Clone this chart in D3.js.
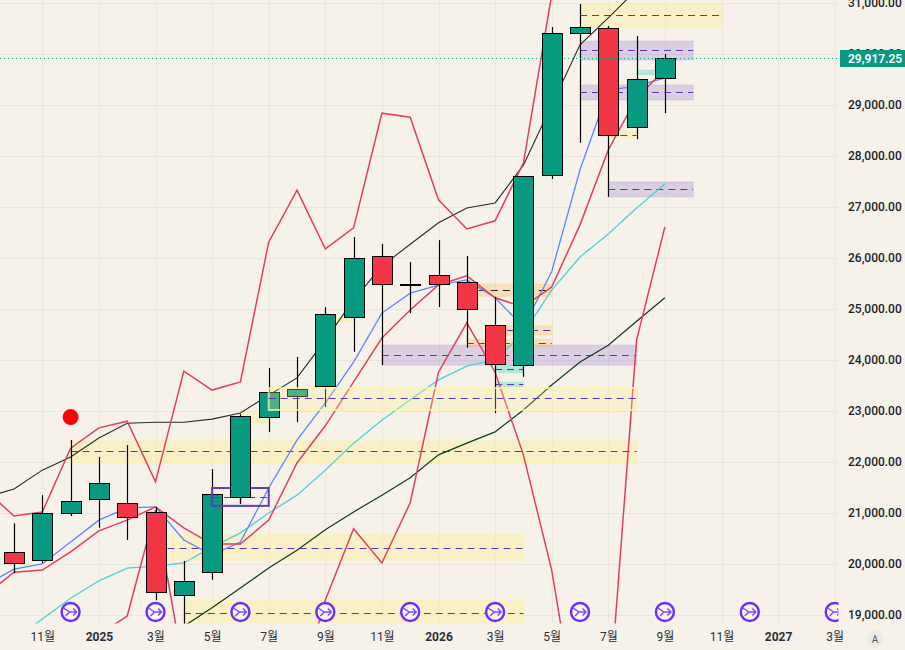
<!DOCTYPE html>
<html><head><meta charset="utf-8">
<script src="https://cdn.jsdelivr.net/npm/d3@7/dist/d3.min.js"></script>
<style>html,body{margin:0;padding:0;background:#f6f2ea;overflow:hidden}svg{display:block}</style>
</head><body><div id="c"></div>
<script>
// months are indexed from 2024-10 = 0
const tickMonths=[1,3,5,7,9,11,13,15,17,19,21,23,25,27,29];
const tickLabels=["11월","2025","3월","5월","7월","9월","11월","2026","3월","5월","7월","9월","11월","2027","3월"];
const priceTicks=[19000,20000,21000,22000,23000,24000,25000,26000,27000,28000,29000,30000,31000];
const opens =[20240,20080,21000,21280,21200,21020,19390,19840,21310,22880,23290,23490,24840,26040,25490,25670,25530,24690,23900,27630,30410,30510,28570,29530];
const closes=[20020,21000,21240,21590,20920,19450,19670,21370,22900,23370,23430,24900,26000,25490,25470,25490,25000,23920,27610,30410,30530,28410,29510,29917];
const highs =[20800,21350,22430,22100,22330,21120,20060,21860,22940,23840,24060,25040,26410,26280,25920,26350,26040,25240,27610,30530,30980,30550,30350,30000];
const lows  =[19820,20020,20940,20710,20470,19290,18800,19690,21180,22590,22780,23080,24160,23900,24920,25040,24240,22960,23670,27550,28260,27200,28330,28840];
const lastPrice=29917.25;
const signalMonth=2, signalPrice=22880;
const eventMonths=[2,5,8,11,14,17,20,23,26,29];

const blackStart=-1, blueStart=-1, redMaStart=-1, cyanStart=0, darkStart=6, upperStart=-1, lowerStart=3;
const blackLine=[21310,21470,21840,22100,22470,22760,22780,22780,22840,22960,23310,23650,24390,25180,25840,26270,26690,26980,27080,27820,29000,30180,30710,31260];
const blueLine=[19590,19900,20000,20430,20860,21100,21120,20470,20180,20430,21490,22430,23160,23960,24920,25310,25470,25570,25220,24650,25730,27730,29290,29370,29530];
const redMaLine=[19390,19840,19880,20240,20650,20860,21120,20710,20390,20390,20860,21980,22710,23570,24430,24980,25470,25650,25220,25040,25430,26650,28120,29140,29690];
const cyanLine=[18510,18920,19330,19670,19920,19960,20020,20330,20610,21000,21350,21840,22370,22820,23220,23610,23880,24000,24530,25370,26020,26470,26980,27450];
const darkLine=[18780,19140,19530,19920,20270,20670,21020,21350,21690,22140,22370,22590,23020,23510,23960,24290,24760,25220];
const upperLine=[21450,20940,21020,22270,22670,22800,21610,23780,23410,23570,26310,27330,26180,26590,28840,28760,27140,26570,26730,27860,31160];
const lowerLine=[18610,18980,21060,17920,15370,15770,16940,17330,19290,20690,20020,21200,23760,24730,23760,22140,19880,16550,17060,24390,26610];

// zones: [startMonth,endMonth,high,low,mid]
const yellowZones=[[2,22,22410,21980,22220],[5,18,20570,20080,20310],[6,18,19290,18780,19040],[20,25,30980,30530,30760],[21,22,28490,28370,28420],[8,9,22960,22760,null],[11,12,24840,24760,null]];
const yellowTopZones=[[9,22,23450,23020,23250]];
const purpleZones=[[13,22,24290,23900,24100],[20,24,30250,29880,30080],[20,24,29390,29100,29250],[21,24,27490,27200,27350]];
const orangeZones=[[16,19,25490,25240,25370],[17,19,24670,24490,24580],[16,19,24410,24260,24330]];
const tealZones=[[17,18,23900,23750,23820],[17,18,23570,23470,23530],[22,23,29690,29590,null]];
const outlineZones=[[7,9,21490,21140,21310]];

const W=905,H=650,plotR=838.5,plotB=623.5;
const bg="#f6f2ea",green="#089981",red="#f23645",grid="#e9e6de",crimson="#e0405e";
const x=d3.scaleLinear().domain([0,29]).range([14,834.7]);
const y=d3.scaleLinear().domain([19000,31000]).range([615,3]);
const svg=d3.select("#c").append("svg").attr("width",W).attr("height",H).style("background",bg);
const FONT="Roboto,'Noto Sans CJK KR',sans-serif";
svg.append("defs").append("clipPath").attr("id","plot").append("rect").attr("x",0).attr("y",0).attr("width",plotR).attr("height",plotB);

// grid
const gridG=svg.append("g").attr("clip-path","url(#plot)");
gridG.selectAll(".h").data(priceTicks).join("line").attr("x1",0).attr("x2",plotR).attr("y1",d=>Math.round(y(d))+.5).attr("y2",d=>Math.round(y(d))+.5).attr("stroke",grid);
gridG.selectAll(".v").data(tickMonths).join("line").attr("y1",0).attr("y2",plotB).attr("x1",d=>Math.round(x(d))+.5).attr("x2",d=>Math.round(x(d))+.5).attr("stroke",grid);

const plot=svg.append("g").attr("clip-path","url(#plot)");
function drawZones(g,zones,fill,border,dash,dashColor){
  zones.forEach(z=>{
    const x0=x(z[0]),x1=x(z[1]),y0=y(z[2]),y1=y(z[3]);
    g.append("rect").attr("x",x0).attr("y",y0).attr("width",x1-x0).attr("height",y1-y0).attr("fill",fill).attr("stroke",border).attr("stroke-width",2);
    if(z[4]!=null){const m=Math.round(y(z[4]))+.5;
      g.append("line").attr("x1",x0).attr("x2",x1).attr("y1",m).attr("y2",m).attr("stroke",dashColor||"#5e35b1").attr("stroke-width",1).attr("stroke-dasharray","7 5");}
  });
}
const Z=plot.append("g");
drawZones(Z,yellowZones,"rgba(251,238,170,.55)","rgba(255,240,150,.35)");
drawZones(Z,purpleZones,"rgba(149,117,205,.28)","rgba(149,117,205,.12)");
drawZones(Z,orangeZones.slice(0,1),"rgba(255,183,77,.3)","rgba(255,183,77,.1)",null,"#222");
drawZones(Z,orangeZones.slice(1),"rgba(255,183,77,.3)","rgba(255,183,77,.1)");
drawZones(Z,tealZones,"rgba(77,208,190,.38)","rgba(77,208,190,.05)");

// lines
const line=start=>d3.line().x((d,i)=>x(i+start)).y(d=>y(d));
[[darkLine,darkStart,"#0d3b24",1.2],[cyanLine,cyanStart,"#4fcfdc",1.3],[blackLine,blackStart,"#2a2a2a",1.1],[lowerLine,lowerStart,crimson,1.5],[upperLine,upperStart,crimson,1.5],[blueLine,blueStart,"#5b87f5",1.3],[redMaLine,redMaStart,crimson,1.5]]
 .forEach(([data,start,col,w])=>plot.append("path").attr("d",line(start)(data)).attr("fill","none").attr("stroke",col).attr("stroke-width",w));

// candles
const cw=20;
const cG=plot.append("g");
opens.forEach((o,i)=>{
  const c=closes[i],X=Math.round(x(i))+.5;
  cG.append("line").attr("x1",X).attr("x2",X).attr("y1",y(highs[i])).attr("y2",y(lows[i])).attr("stroke","#000").attr("stroke-width",1.2);
  const t=Math.round(y(Math.max(o,c))),b=Math.round(y(Math.min(o,c)));
  cG.append("rect").attr("x",X-cw/2).attr("y",t+.5).attr("width",cw).attr("height",Math.max(1,b-t)).attr("fill",c>=o?green:red).attr("stroke","#000").attr("stroke-width",1);
});
drawZones(plot.append("g"),yellowTopZones,"rgba(255,240,140,.28)","rgba(255,243,170,.75)");
outlineZones.forEach(z=>{
  const g=plot.append("g");
  g.append("rect").attr("x",x(z[0])).attr("y",y(z[2])).attr("width",x(z[1])-x(z[0])).attr("height",y(z[3])-y(z[2])).attr("fill","none").attr("stroke","#673ab7").attr("stroke-width",2);
  const m=Math.round(y(z[4]))+.5;
  g.append("line").attr("x1",x(z[0])).attr("x2",x(z[1])).attr("y1",m).attr("y2",m).attr("stroke","#5e35b1").attr("stroke-dasharray","7 5");
});
// redraw the candle that sits over the outline box
(()=>{const i=8,X=Math.round(x(i))+.5,t=Math.round(y(closes[i])),b=Math.round(y(opens[i]));
 plot.append("line").attr("x1",X).attr("x2",X).attr("y1",b).attr("y2",y(lows[i])).attr("stroke","#000").attr("stroke-width",1.2);
 plot.append("rect").attr("x",X-cw/2).attr("y",t+.5).attr("width",cw).attr("height",b-t).attr("fill",green).attr("stroke","#000");})();

// signal dot
plot.append("circle").attr("cx",x(signalMonth)).attr("cy",y(signalPrice)).attr("r",8).attr("fill","#ff0000");

// last price line
plot.append("line").attr("x1",0).attr("x2",plotR).attr("y1",Math.round(y(lastPrice))+.5).attr("y2",Math.round(y(lastPrice))+.5).attr("stroke",green).attr("stroke-width",1).attr("stroke-dasharray","1 3");

// event icons
const ev=plot.selectAll(".ev").data(eventMonths).join("g").attr("transform",d=>`translate(${x(d)},612)`);
ev.append("circle").attr("r",9).attr("fill","#f9f6f1").attr("stroke","#6a2cff").attr("stroke-width",2.4);
ev.append("path").attr("d","M-7,-4 L-1,0 H6 M2.5,-3.5 L6,0 L2.5,3.5 M-1,0 L-5,4").attr("fill","none").attr("stroke","#7c4dff").attr("stroke-width",1.5);

// axes
const yAxis=d3.axisRight(y).tickValues(priceTicks).tickSize(0).tickPadding(0).tickFormat(d3.format(",.2f"));
const ya=svg.append("g").attr("transform","translate(848,0)").call(yAxis);
ya.select(".domain").remove();
ya.selectAll("text").attr("font-family",FONT).attr("font-size",12).attr("font-weight",500).attr("fill","#20242c");

const xAxis=d3.axisBottom(x).tickValues(tickMonths).tickSize(0).tickPadding(0).tickFormat((d,i)=>tickLabels[i]);
const xa=svg.append("g").attr("transform","translate(0,632)").call(xAxis);
xa.select(".domain").remove();
xa.selectAll("text").attr("font-family",FONT).attr("font-size",12).attr("fill","#2a2e39")
  .attr("font-weight",(d,i)=>/^20/.test(tickLabels[i])?700:400);

// last price tag
svg.append("rect").attr("x",840).attr("y",50).attr("width",65).attr("height",17).attr("fill",green);
svg.append("text").attr("x",848).attr("y",y(lastPrice)+4.5).attr("font-family",FONT).attr("font-size",12).attr("font-weight",600).attr("fill","#fff").text(d3.format(",.2f")(lastPrice));

// auto-scale button
svg.append("circle").attr("cx",875).attr("cy",639).attr("r",8.5).attr("fill","#eeebe5");
svg.append("text").attr("x",875).attr("y",643).attr("text-anchor","middle").attr("font-family",FONT).attr("font-size",10).attr("fill","#555").text("A");
</script></body></html>
